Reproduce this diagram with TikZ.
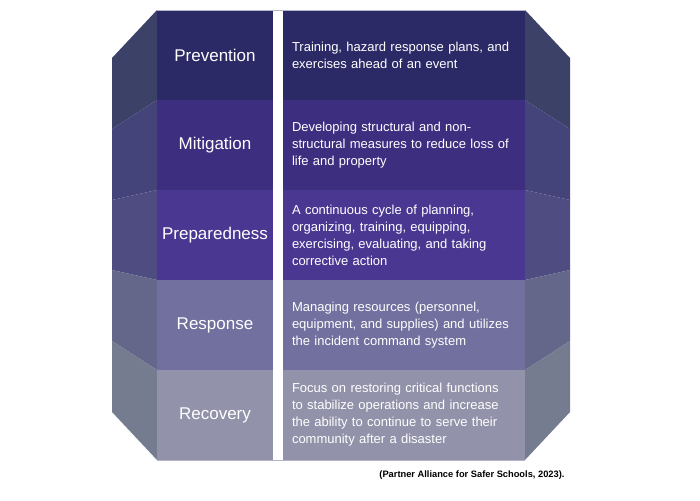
\documentclass[tikz,border=0pt]{standalone}
\usepackage{fontspec}
\setmainfont{Liberation Sans}
\usepackage{xcolor}
\usetikzlibrary{positioning}
\definecolor{frontA}{HTML}{2C2A66}
\definecolor{frontB}{HTML}{3D2E80}
\definecolor{frontC}{HTML}{4A3791}
\definecolor{frontD}{HTML}{72709E}
\definecolor{frontE}{HTML}{9292AA}
\definecolor{sideA}{HTML}{3C4168}
\definecolor{sideB}{HTML}{45447A}
\definecolor{sideC}{HTML}{4F4C82}
\definecolor{sideD}{HTML}{64668A}
\definecolor{sideE}{HTML}{767C90}
\definecolor{rim}{HTML}{B4B4CA}

\begin{document}
\begin{tikzpicture}[
  x=1pt, y=-1pt,
  phase/.style={minimum width=116pt, minimum height=90pt, inner sep=0pt, outer sep=0pt,
                text=white, font=\fontsize{17}{20}\selectfont},
  detail/.style={phase, minimum width=242pt, text width=224pt, inner xsep=9pt,
                 align=left, font=\fontsize{13}{17}\selectfont},
  node distance=0pt and 10pt,
]
\useasboundingbox (0,0) rectangle (700,500);
\foreach \ft/\fb/\ot/\ob/\col in {10/100/58/129/sideA, 100/190/129/200/sideB,
    190/280/200/270/sideC, 280/370/270/341/sideD, 370/460/341/412/sideE}{
  \fill[\col] (157,\ft) -- (112,\ot) -- (112,\ob) -- (157,\fb) -- cycle;
  \fill[\col] (525,\ft) -- (570,\ot) -- (570,\ob) -- (525,\fb) -- cycle;
}
\node[phase, fill=frontA] (prev) at (215,55) {Prevention};
\node[detail, fill=frontA, right=of prev] (prevtxt) {Training, hazard response plans, and\\ exercises ahead of an event};
\node[phase, fill=frontB, below=of prev] (mitig) {Mitigation};
\node[detail, fill=frontB, right=of mitig] (mitigtxt) {Developing structural and non-\\ structural measures to reduce loss of\\ life and property};
\node[phase, fill=frontC, below=of mitig] (prep) {Preparedness};
\node[detail, fill=frontC, right=of prep] (preptxt) {A continuous cycle of planning,\\ organizing, training, equipping,\\ exercising, evaluating, and taking\\ corrective action};
\node[phase, fill=frontD, below=of prep] (resp) {Response};
\node[detail, fill=frontD, right=of resp] (resptxt) {Managing resources (personnel,\\ equipment, and supplies) and utilizes\\ the incident command system};
\node[phase, fill=frontE, below=of resp] (recov) {Recovery};
\node[detail, fill=frontE, right=of recov] (recovtxt) {Focus on restoring critical functions\\ to stabilize operations and increase\\ the ability to continue to serve their\\ community after a disaster};

\draw[rim, line width=0.8pt] (prev.north west) -- (prevtxt.north east);
\draw[rim, line width=0.8pt] (recov.south west) -- (recovtxt.south east);

\node[anchor=east, font=\bfseries\fontsize{9.3}{10}\selectfont] (src) at (568,475) {(Partner Alliance for Safer Schools, 2023).};
\end{tikzpicture}
\end{document}
